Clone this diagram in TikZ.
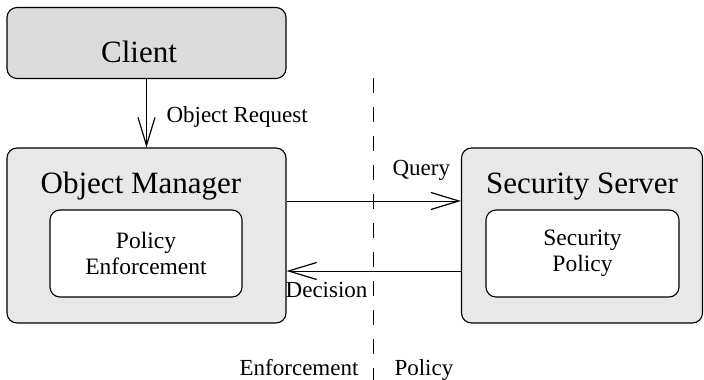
\documentclass[tikz,border=0pt]{standalone}
\usepackage{fontspec}
\setmainfont{Liberation Serif}
\usetikzlibrary{arrows.meta}

\tikzset{
  outerbox/.style={draw, line width=1.1pt, rounded corners=10pt, fill=gray!18},
  innerbox/.style={draw, line width=1.1pt, rounded corners=10pt, fill=white,
    minimum width=192pt, minimum height=87pt, align=center,
    font=\fontsize{23.5}{26}\selectfont},
  title/.style={anchor=base, font=\fontsize{31}{31}\selectfont},
  lbl/.style={anchor=base, font=\fontsize{23}{23}\selectfont},
  arr/.style={line width=0.9pt, -{Straight Barb[length=28pt,width=17pt,line width=1.2pt]}}
}

\begin{document}
\begin{tikzpicture}[x=1pt, y=-1pt]
  \useasboundingbox (0,0) rectangle (704,380);

  % Boxes
  \node[outerbox, fill=gray!28, minimum width=279pt, minimum height=71pt] (client) at (146.5,43) {};
  \node[outerbox, minimum width=279pt, minimum height=175pt] (manager) at (146.5,235.5) {};
  \node[outerbox, minimum width=241pt, minimum height=175pt] (server) at (582,235.5) {};
  \node[innerbox] (enforce) at (146,253.5) {Policy\\Enforcement};
  \node[innerbox, minimum width=193pt] (policy) at (582.5,253.5) {Security\\Policy};

  % Titles
  \node[title] (clientname) at (139,62) {Client};
  \node[title] (managername) at (141,193) {Object Manager};
  \node[title] (servername) at (582,193) {Security Server};

  % Border between enforcement and policy
  \coordinate (top) at (373,78);
  \coordinate (bottom) at (373,382);
  \draw[line width=0.9pt, dash pattern=on 15pt off 14pt] (top) -- (bottom);

  % Messages
  \draw[arr] (client) -- (manager);
  \draw[arr] ([yshift=34.5pt]manager.east) -- ([yshift=34.5pt]server.west);
  \draw[arr] ([yshift=-35.5pt]server.west) -- ([yshift=-35.5pt]manager.east);

  % Labels
  \node[lbl, anchor=base west] (request) at (163,122) {Object Request};
  \node[lbl, anchor=base west] (query) at (389,175) {Query};
  \node[lbl, anchor=base east] (decision) at (371,297) {Decision};
  \node[lbl, anchor=base east] (enfside) at (362,375) {Enforcement};
  \node[lbl, anchor=base west] (polside) at (391,375) {Policy};
\end{tikzpicture}
\end{document}
